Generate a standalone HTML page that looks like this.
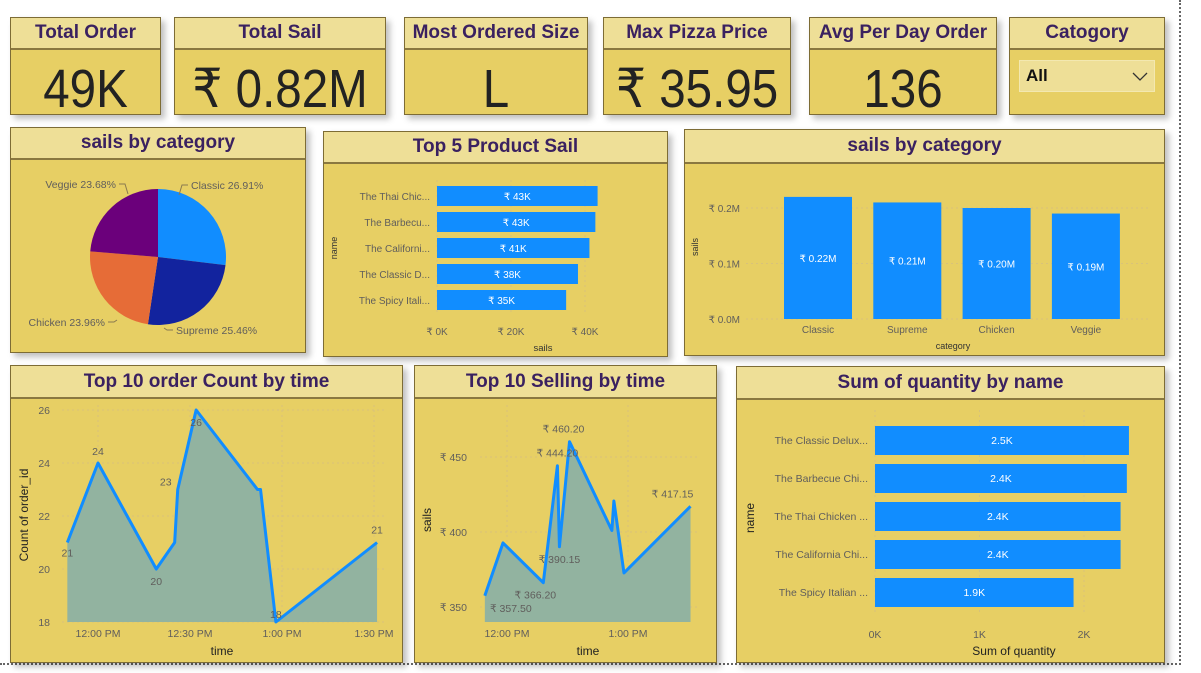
<!DOCTYPE html>
<html><head><meta charset="utf-8">
<style>
body{margin:0;width:1201px;height:673px;background:#fff;position:relative;overflow:hidden;font-family:"Liberation Sans",sans-serif}
.p{position:absolute;background:#E7CF64;border:1px solid #7d6c35;box-sizing:border-box;box-shadow:4px 4px 6px rgba(0,0,0,.25)}
.h{position:absolute;left:0;right:0;top:0;background:#EEDF97;border-bottom:2px solid #8a7840;color:#3a2160;font-weight:bold;font-size:19px;text-align:center;box-sizing:border-box}
.v{position:absolute;left:0;right:0;text-align:center;color:#222;font-size:54px;line-height:54px;transform:scaleX(.88)}
svg{position:absolute;left:0;top:0}
</style></head><body>
<div style="position:absolute;left:1179px;top:0;height:665px;border-left:2px dotted #666"></div>
<div style="position:absolute;left:0;top:663px;width:1181px;border-top:2px dotted #666"></div>

<div class="p" style="left:10px;top:17px;width:151px;height:98px"><div class="h" style="height:32px;line-height:30px">Total Order</div><div class="v" style="top:44px">49K</div></div>
<div class="p" style="left:174px;top:17px;width:212px;height:98px"><div class="h" style="height:32px;line-height:30px">Total Sail</div><div class="v" style="top:44px">₹ 0.82M</div></div>
<div class="p" style="left:404px;top:17px;width:184px;height:98px"><div class="h" style="height:32px;line-height:30px">Most Ordered Size</div><div class="v" style="top:44px">L</div></div>
<div class="p" style="left:603px;top:17px;width:188px;height:98px"><div class="h" style="height:32px;line-height:30px">Max Pizza Price</div><div class="v" style="top:44px">₹ 35.95</div></div>
<div class="p" style="left:809px;top:17px;width:188px;height:98px"><div class="h" style="height:32px;line-height:30px">Avg Per Day Order</div><div class="v" style="top:44px">136</div></div>
<div class="p" style="left:1009px;top:17px;width:156px;height:98px"><div class="h" style="height:32px;line-height:30px">Catogory</div>
<div style="position:absolute;left:9px;top:42px;width:136px;height:32px;background:#EEDF97;border:1px solid #f3e8b0;box-sizing:border-box;font-weight:bold;font-size:17px;line-height:30px;padding-left:6px;color:#111">All<svg width="16" height="10" style="left:112px;top:11px"><polyline points="1,1 8,8 15,1" fill="none" stroke="#333" stroke-width="1.3"/></svg></div></div>

<div class="p" style="left:10px;top:127px;width:296px;height:226px"><div class="h" style="height:32px;line-height:30px">sails by category</div></div>
<div class="p" style="left:323px;top:131px;width:345px;height:226px"><div class="h" style="height:32px;line-height:30px">Top 5 Product Sail</div></div>
<div class="p" style="left:684px;top:129px;width:481px;height:227px"><div class="h" style="height:34px;line-height:32px">sails by category</div></div>
<div class="p" style="left:10px;top:365px;width:393px;height:298px"><div class="h" style="height:33px;line-height:31px">Top 10 order Count by time</div></div>
<div class="p" style="left:414px;top:365px;width:303px;height:298px"><div class="h" style="height:33px;line-height:31px">Top 10 Selling by time</div></div>
<div class="p" style="left:736px;top:366px;width:429px;height:297px"><div class="h" style="height:33px;line-height:31px">Sum of quantity by name</div></div>

<svg id="c" width="1201" height="673" font-family="Liberation Sans, sans-serif"></svg>
<script>
const pieCats=["Classic","Supreme","Chicken","Veggie"];
const piePct=[26.91,25.46,23.96,23.68];
const top5Names=["The Thai Chic...","The Barbecu...","The Californi...","The Classic D...","The Spicy Itali..."];
const top5Vals=[43.4,42.8,41.2,38.1,34.9];
const top5Ticks=[0,20,40];
const catNames=["Classic","Supreme","Chicken","Veggie"];
const catVals=[0.22,0.21,0.20,0.19];
const catTicks=[0,0.1,0.2];
const qtyNames=["The Classic Delux...","The Barbecue Chi...","The Thai Chicken ...","The California Chi...","The Spicy Italian ..."];
const qtyVals=[2.43,2.41,2.35,2.35,1.9];
const qtyLabels=["2.5K","2.4K","2.4K","2.4K","1.9K"];
const qtyTicks=[0,1,2];
const ocTimes=[-10,0,19,25,26,32,52,53,58,91];
const ocVals=[21,24,20,21,23,26,23,23,18,21];
const ocTicks=[18,20,22,24,26];
const ocTimeTicks=[0,30,60,90];
const ocTimeLabels=["12:00 PM","12:30 PM","1:00 PM","1:30 PM"];
const slTimes=[-11,-2,18,25,26,31,52,53,58,91];
const slVals=[357.5,392.7,366.2,444.2,390.15,460.2,401,420.7,372.7,417.15];
const slTicks=[350,400,450];
const slTimeTicks=[0,60];
const slTimeLabels=["12:00 PM","1:00 PM"];

const S=document.getElementById('c'),NS="http://www.w3.org/2000/svg";
function el(t,a,txt){const e=document.createElementNS(NS,t);for(const k in a)e.setAttribute(k,a[k]);if(txt!==undefined)e.textContent=txt;S.appendChild(e);return e;}
const TXT="#605e5c",BLUE="#118DFF";

// Pie
const pcx=158,pcy=257,pr=68,pcol=["#118DFF","#12239E","#E66C37","#6B007B"];
let a0=-Math.PI/2;const tot=piePct.reduce((a,b)=>a+b,0);
const pieLab=[[191,189,"start"],[176,334,"start"],[105,326,"end"],[116,188,"end"]];
piePct.forEach((p,i)=>{const a1=a0+p/tot*2*Math.PI;
 const d=`M${pcx},${pcy} L${pcx+pr*Math.cos(a0)},${pcy+pr*Math.sin(a0)} A${pr},${pr} 0 0 1 ${pcx+pr*Math.cos(a1)},${pcy+pr*Math.sin(a1)} Z`;
 const e=el('path',{d,fill:pcol[i]});
 
 
 const L=pieLab[i];
 const sx0=L[0]+(L[2]=="start"?-3:3), sx1=L[0]+(L[2]=="start"?-9:9);
 const sy0=L[1]-4, sy1=L[1]+(L[1]<250?4:-4)*1.5;
 el('polyline',{points:`${sx0},${sy0} ${sx1},${sy0} ${sx1+(L[2]=="start"?-3:3)},${sy1}`,fill:"none",stroke:"#8a7a50","stroke-width":1});
 const t=el('text',{x:L[0],y:L[1],"font-size":10.5,fill:TXT,"text-anchor":L[2]},pieCats[i]+" "+p.toFixed(2)+"%");
 
 
 a0=a1;});

// Top5
const t5x=v=>437+v*3.7,t5y=i=>196+i*26;
top5Ticks.forEach(v=>{el('line',{x1:t5x(v),x2:t5x(v),y1:180,y2:315,stroke:"#d8c27a","stroke-dasharray":"2,3"});el('text',{x:t5x(v),y:335,"font-size":10,fill:TXT,"text-anchor":"middle"},"₹ "+v+"K");});
top5Names.forEach((n,i)=>{el('text',{x:430,y:t5y(i)+4,"font-size":10,fill:TXT,"text-anchor":"end"},n);
 const r=el('rect',{x:t5x(0),y:t5y(i)-10,width:t5x(top5Vals[i])-t5x(0),height:20,fill:BLUE});
 
 
 el('text',{x:(t5x(0)+t5x(top5Vals[i]))/2,y:t5y(i)+4,"font-size":10,fill:"#fff","text-anchor":"middle"},"₹ "+Math.round(top5Vals[i])+"K");});
el('text',{x:543,y:351,"font-size":9.5,fill:"#333","text-anchor":"middle"},"sails");
el('text',{x:0,y:0,"font-size":9,fill:"#333","text-anchor":"middle",transform:"translate(337,248) rotate(-90)"},"name");

// Category bars
const cy=v=>319-v*555,cx=i=>784+i*89.3;
catTicks.forEach(v=>{el('line',{x1:746,x2:1150,y1:cy(v),y2:cy(v),stroke:"#d8c27a","stroke-dasharray":"2,3"});el('text',{x:740,y:cy(v)+4,"font-size":10,fill:TXT,"text-anchor":"end"},"₹ "+v.toFixed(1)+"M");});
catNames.forEach((n,i)=>{const r=el('rect',{x:cx(i),y:cy(catVals[i]),width:68,height:cy(0)-cy(catVals[i]),fill:BLUE});
 
 
 el('text',{x:cx(i)+34,y:(cy(catVals[i])+cy(0))/2+4,"font-size":10,fill:"#fff","text-anchor":"middle"},"₹ "+catVals[i].toFixed(2)+"M");
 el('text',{x:cx(i)+34,y:333,"font-size":10,fill:TXT,"text-anchor":"middle"},n);});
el('text',{x:953,y:349,"font-size":9,fill:"#333","text-anchor":"middle"},"category");
el('text',{x:0,y:0,"font-size":9,fill:"#333","text-anchor":"middle",transform:"translate(698,247) rotate(-90)"},"sails");

// Quantity
const qx=v=>875+v*104.5,qy=i=>440+i*38;
qtyTicks.forEach(v=>{el('line',{x1:qx(v),x2:qx(v),y1:410,y2:615,stroke:"#d8c27a","stroke-dasharray":"2,3"});el('text',{x:qx(v),y:638,"font-size":10.5,fill:TXT,"text-anchor":"middle"},v+"K");});
qtyNames.forEach((n,i)=>{el('text',{x:868,y:qy(i)+4,"font-size":10.5,fill:TXT,"text-anchor":"end"},n);
 const r=el('rect',{x:qx(0),y:qy(i)-14,width:qx(qtyVals[i])-qx(0),height:29,fill:BLUE});
 
 
 el('text',{x:(qx(0)+qx(qtyVals[i]))/2,y:qy(i)+4,"font-size":10.5,fill:"#fff","text-anchor":"middle"},qtyLabels[i]);});
el('text',{x:1014,y:655,"font-size":12,fill:"#222","text-anchor":"middle"},"Sum of quantity");
el('text',{x:0,y:0,"font-size":12,fill:"#222","text-anchor":"middle",transform:"translate(754,518) rotate(-90)"},"name");

// Line/area charts
function area(times,vals,xf,yf,base,name){
 const pts=times.map((t,i)=>xf(t)+","+yf(vals[i])).join(" ");
 el('polygon',{points:`${xf(times[0])},${base} ${pts} ${xf(times[times.length-1])},${base}`,fill:"#92B3A0"});
 const l=el('polyline',{points:pts,fill:"none",stroke:BLUE,"stroke-width":3,"stroke-linejoin":"round"});
 
 
}
const ox=t=>98+t*92/30,oy=v=>622-(v-18)*26.5;
ocTicks.forEach(v=>{el('line',{x1:62,x2:385,y1:oy(v),y2:oy(v),stroke:"#d8c27a","stroke-dasharray":"2,3"});el('text',{x:50,y:oy(v)+4,"font-size":10.5,fill:TXT,"text-anchor":"end"},v);});
ocTimeTicks.forEach((t,i)=>{el('line',{x1:ox(t),x2:ox(t),y1:405,y2:622,stroke:"#d8c27a","stroke-dasharray":"2,3"});el('text',{x:ox(t),y:637,"font-size":10.5,fill:TXT,"text-anchor":"middle"},ocTimeLabels[i]);});
area(ocTimes,ocVals,ox,oy,oy(18),'order-count-line');
const ocLab=[[0,0,14],[1,0,-8],[2,0,16],[4,-12,-4],[5,0,16],[8,0,-4],[9,0,-9]];
ocLab.forEach(([i,dx,dy])=>el('text',{x:ox(ocTimes[i])+dx,y:oy(ocVals[i])+dy,"font-size":10.5,fill:TXT,"text-anchor":"middle"},ocVals[i]));
el('text',{x:222,y:655,"font-size":12,fill:"#222","text-anchor":"middle"},"time");
el('text',{x:0,y:0,"font-size":12,fill:"#222","text-anchor":"middle",transform:"translate(28,515) rotate(-90)"},"Count of order_id");

const sx=t=>507+t*121/60,sy=v=>607-(v-350)*1.5;
slTicks.forEach(v=>{el('line',{x1:480,x2:700,y1:sy(v),y2:sy(v),stroke:"#d8c27a","stroke-dasharray":"2,3"});el('text',{x:467,y:sy(v)+4,"font-size":10.5,fill:TXT,"text-anchor":"end"},"₹ "+v);});
slTimeTicks.forEach((t,i)=>{el('line',{x1:sx(t),x2:sx(t),y1:405,y2:622,stroke:"#d8c27a","stroke-dasharray":"2,3"});el('text',{x:sx(t),y:637,"font-size":10.5,fill:TXT,"text-anchor":"middle"},slTimeLabels[i]);});
area(slTimes,slVals,sx,sy,622,'selling-line');
const slLab=[[0,26,16],[2,-8,16],[4,0,16],[3,0,-9],[5,-6,-9],[9,-18,-9]];
slLab.forEach(([i,dx,dy])=>el('text',{x:sx(slTimes[i])+dx,y:sy(slVals[i])+dy,"font-size":10.5,fill:TXT,"text-anchor":"middle"},"₹ "+slVals[i].toFixed(2)));
el('text',{x:588,y:655,"font-size":12,fill:"#222","text-anchor":"middle"},"time");
el('text',{x:0,y:0,"font-size":12,fill:"#222","text-anchor":"middle",transform:"translate(431,520) rotate(-90)"},"sails");
</script>
</body></html>
